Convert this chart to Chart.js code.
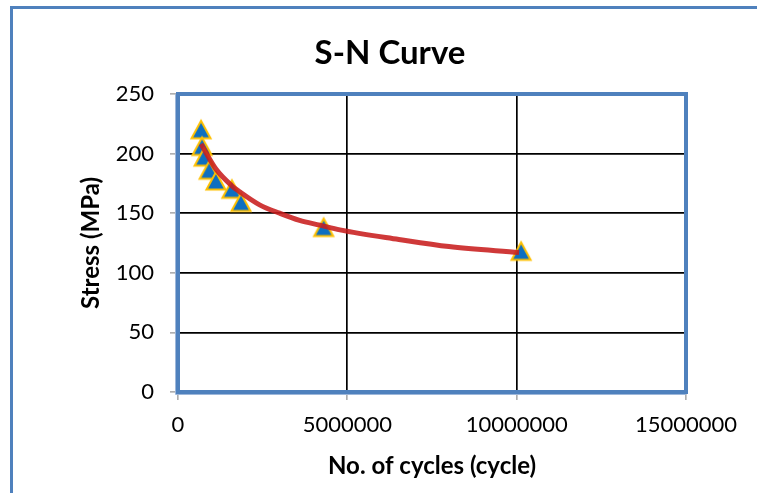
<!DOCTYPE html>
<html>
<head>
<meta charset="utf-8">
<script src="https://cdn.jsdelivr.net/npm/chart.js@4/dist/chart.umd.min.js"></script>
<style>
  html, body { margin: 0; padding: 0; background: #fff; overflow: hidden; }
  #wrap { position: relative; width: 757px; height: 493px; }
  #frame { position: absolute; left: 10px; top: 6px; width: 900px; height: 700px; border: 3px solid #4F81BD; box-sizing: border-box; pointer-events: none; }
  canvas { position: absolute; left: 0; top: 0; }
</style>
</head>
<body>
<div id="wrap">
  <canvas id="c" width="757" height="493"></canvas>
  <div id="frame"></div>
</div>
<script>
// Data
const cycles = [680000, 710000, 770000, 920000, 1120000, 1590000, 1860000, 4300000, 10130000];
const stress = [220, 206, 197, 186, 177, 170, 159, 138, 118];

// Trendline (red curve)
const trendCycles = [680000, 1120000, 1590000, 1820000, 2410000, 3000000, 3590000, 4190000, 4780000, 6520000, 8000000, 10070000];
const trendStress = [208, 187, 173, 168, 157, 150, 144, 140, 136, 128, 122, 117];

const xTicks = [0, 5000000, 10000000, 15000000];
const yTicks = [0, 50, 100, 150, 200, 250];

const titleText = 'S-N Curve';
const xTitle = 'No. of cycles (cycle)';
const yTitle = 'Stress (MPa)';

const FONT = 'Lato';

// Marker: triangle centred in its bounding box (like the spreadsheet marker)
const marker = document.createElement('canvas');
marker.width = 24; marker.height = 24;
(function () {
  const m = marker.getContext('2d');
  m.beginPath();
  m.moveTo(12, 3);
  m.lineTo(21.5, 20.5);
  m.lineTo(2.5, 20.5);
  m.closePath();
  m.fillStyle = '#0E6FC0';
  m.fill();
  m.lineJoin = 'miter';
  m.lineWidth = 2;
  m.strokeStyle = '#FFC000';
  m.stroke();
})();

const framePlugin = {
  id: 'frame',
  beforeDatasetsDraw(chart) {
    const {ctx, chartArea: a} = chart;
    ctx.save();
    ctx.strokeStyle = '#4F81BD';
    ctx.lineWidth = 4;
    ctx.strokeRect(a.left, a.top, a.right - a.left, a.bottom - a.top);
    ctx.strokeStyle = '#9DB7DA';
    ctx.lineWidth = 1;
    ctx.beginPath();
    ctx.moveTo(a.left - 2.5, a.top);
    ctx.lineTo(a.left - 2.5, a.bottom + 2.5);
    ctx.lineTo(a.right, a.bottom + 2.5);
    ctx.stroke();
    ctx.restore();
  },
  afterDraw(chart) {
    const {ctx} = chart;
    ctx.save();
    ctx.fillStyle = '#000';
    ctx.font = 'bold 33px ' + FONT;
    ctx.textAlign = 'center';
    ctx.textBaseline = 'alphabetic';
    ctx.fillText(titleText, 390, 64);
    ctx.restore();
  }
};

new Chart(document.getElementById('c'), {
  type: 'scatter',
  data: {
    datasets: [
      {
        label: 'Trend',
        type: 'line',
        data: trendCycles.map((x, i) => ({x: x, y: trendStress[i]})),
        borderColor: 'rgba(200,30,30,0.88)',
        borderWidth: 5,
        pointRadius: 0,
        fill: false,
        cubicInterpolationMode: 'monotone'
      },
      {
        label: 'S-N',
        data: cycles.map((x, i) => ({x: x, y: stress[i]})),
        pointStyle: marker,
        pointRadius: 11,
        pointHoverRadius: 11,
        backgroundColor: '#0E6FC0',
        borderColor: '#FFC000',
        borderWidth: 2
      }
    ]
  },
  plugins: [framePlugin],
  options: {
    responsive: false,
    animation: false,
    events: [],
    layout: { padding: { left: 0, right: 71, top: 94, bottom: 0 } },
    plugins: {
      legend: { display: false },
      tooltip: { enabled: false },
      title: { display: false }
    },
    scales: {
      x: {
        type: 'linear',
        min: 0,
        max: 15000000,
        afterBuildTicks(scale) { scale.ticks = xTicks.map(v => ({value: v})); },
        afterFit(scale) { scale.height = 101; },
        ticks: {
          color: '#000',
          font: { family: FONT, size: 22 },
          padding: 12,
          maxRotation: 0,
          autoSkip: false,
          callback: v => String(v)
        },
        grid: { color: '#000', lineWidth: 1.7, tickColor: '#A6A6A6', tickLength: 8, tickWidth: 1.5 },
        border: { display: false },
        title: {
          display: true,
          text: xTitle,
          color: '#000',
          font: { family: FONT, size: 24, weight: 'bold' },
          padding: { top: 0, bottom: 12 }
        }
      },
      y: {
        type: 'linear',
        min: 0,
        max: 250,
        afterBuildTicks(scale) { scale.ticks = yTicks.map(v => ({value: v})); },
        afterFit(scale) { scale.width = 178; },
        ticks: {
          color: '#000',
          font: { family: FONT, size: 22 },
          padding: 16,
          autoSkip: false
        },
        grid: { color: '#000', lineWidth: 1.7, tickColor: '#A6A6A6', tickLength: 8, tickWidth: 1.5 },
        border: { display: false },
        title: {
          display: true,
          text: yTitle,
          color: '#000',
          font: { family: FONT, size: 24, weight: 'bold' },
          padding: { top: 77, bottom: 0 }
        }
      }
    }
  }
});
</script>
</body>
</html>
